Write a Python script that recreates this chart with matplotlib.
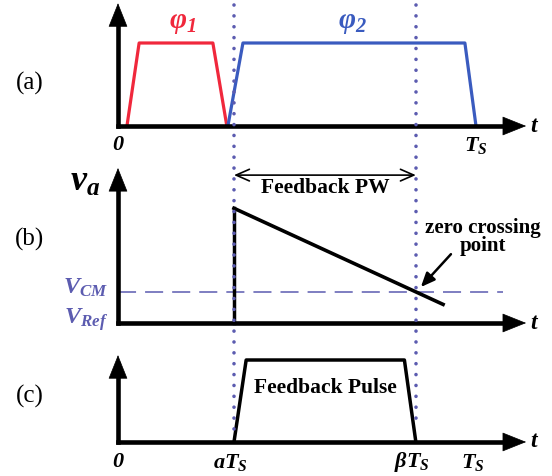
import matplotlib
matplotlib.use('Agg')
import matplotlib.pyplot as plt
import matplotlib.transforms as mtransforms
from matplotlib.lines import Line2D

plt.rcParams['font.family'] = 'Liberation Serif'
plt.rcParams['mathtext.fontset'] = 'custom'
plt.rcParams['mathtext.it'] = 'Liberation Serif:italic:bold'
plt.rcParams['mathtext.rm'] = 'Liberation Serif:italic:bold'
plt.rcParams['mathtext.bf'] = 'Liberation Serif:italic:bold'

# time in units of Ts
Ts = 1.0
alpha = 0.324
beta = 0.832
t_end = 1.14

phi1_t = [0.025, 0.059, 0.265, 0.304]
phi1_v = [0, 1, 1, 0]
phi2_t = [0.307, 0.349, 0.969, 1.0]
phi2_v = [0, 1, 1, 0]

va_t = [alpha, 0.908]
va_v = [3.7, 0.6]
VCM = 1.0
VREF = 0.0
vcm_end = 1.075

pulse_t = [alpha, 0.358, 0.80, beta]
pulse_v = [0, 1, 1, 0]

tick_pos = [0, alpha, beta, Ts]
tick_lbl = ['0', r'$aT_S$', r'$\beta T_S$', r'$T_S$']

red = '#f0283c'
blue = '#3a5bbf'
slate = '#5c5cb0'
slate2 = '#7474bc'

W, H = 552, 476
fig = plt.figure(figsize=(W / 100, H / 100), dpi=100)
xlim = (-118 / 358, 434 / 358)


def panel(top_px, h_px, ylim):
    ax = fig.add_axes([0, 1 - (top_px + h_px) / H, 1, h_px / H])
    ax.set_xlim(*xlim)
    ax.set_ylim(*ylim)
    ax.axis('off')
    return ax


def axes_arrows(ax, ytip):
    ax.plot([0, t_end - 0.03], [0, 0], color='k', lw=3.3, solid_capstyle='projecting', zorder=3)
    ax.plot([0, 0], [0, ytip * 0.9], color='k', lw=3.3, solid_capstyle='projecting', zorder=3)
    st = '-|>,head_length=0.8,head_width=0.32'
    ax.annotate('', xy=(t_end, 0), xytext=(t_end - 0.08, 0),
                arrowprops=dict(arrowstyle=st, color='k', lw=0.5, mutation_scale=20,
                                shrinkA=0, shrinkB=0), zorder=4)
    ax.annotate('', xy=(0, ytip), xytext=(0, ytip * 0.8),
                arrowprops=dict(arrowstyle=st, color='k', lw=0.5, mutation_scale=20,
                                shrinkA=0, shrinkB=0), zorder=4)
    ax.text(t_end + 0.025, 0, r'$t$', fontsize=17, ha='center', va='center')


# (a) clock phases
ax_a = panel(0, 150, (-0.289, 1.518))
axes_arrows(ax_a, 1.48)
ax_a.plot(phi1_t, phi1_v, color=red, lw=2.3, zorder=2)
ax_a.plot(phi2_t, phi2_v, color=blue, lw=2.3, zorder=2)
ax_a.text(0.179, 1.24, r'$\varphi_1$', color=red, fontsize=21, ha='center', va='center')
ax_a.text(0.656, 1.24, r'$\varphi_2$', color=blue, fontsize=21, ha='center', va='center')
ax_a.text(-0.246, 0.518, '(a)', fontsize=18, ha='center', va='center')
ax_a.text(0, -0.23, '0', fontsize=16, ha='center', va='center', style='italic', weight='bold')
ax_a.text(Ts, -0.23, r'$T_S$', fontsize=16, ha='center', va='center')

# (b) integrator output
ax_b = panel(150, 185, (-0.387, 5.58))
axes_arrows(ax_b, 5.0)
ax_b.plot([alpha, alpha], [VREF, va_v[0]], color='k', lw=2.5, zorder=2)
ax_b.plot(va_t, va_v, color='k', lw=2.6, zorder=2)
ax_b.plot([0, vcm_end], [VCM, VCM], color=slate2, lw=1.3, dashes=(10, 5), zorder=1)
ax_b.annotate('', xy=(alpha, 4.77), xytext=(beta, 4.77),
              arrowprops=dict(arrowstyle='<->,head_length=0.8,head_width=0.35',
                              color='k', lw=1.2, mutation_scale=12, shrinkA=0, shrinkB=0))
ax_b.text((alpha + beta) / 2, 4.35, 'Feedback PW', fontsize=15.5, weight='bold',
          ha='center', va='center')
ax_b.text(1.02, 3.08, 'zero crossing', fontsize=15, weight='bold', ha='center', va='center')
ax_b.text(1.02, 2.48, 'point', fontsize=15, weight='bold', ha='center', va='center')
ax_b.annotate('', xy=(0.846, 1.16), xytext=(0.930, 2.22),
              arrowprops=dict(arrowstyle='-|>,head_length=0.7,head_width=0.3',
                              color='k', lw=1.8, mutation_scale=12, shrinkA=0, shrinkB=0))
ax_b.text(-0.092, 4.55, r'$v_a$', fontsize=26, ha='center', va='center')
ax_b.text(-0.028, 1.13, r'$V_{CM}$', color=slate, fontsize=17.5, ha='right', va='center')
ax_b.text(-0.028, 0.12, r'$V_{Ref}$', color=slate, fontsize=17.5, ha='right', va='center')
ax_b.text(-0.246, 2.68, '(b)', fontsize=18, ha='center', va='center')

# (c) feedback pulse
ax_c = panel(335, 141, (-0.415, 1.305))
axes_arrows(ax_c, 1.06)
ax_c.plot(pulse_t, pulse_v, color='k', lw=2.5, zorder=2)
ax_c.text(0.578, 0.66, 'Feedback Pulse', fontsize=15.5, weight='bold', ha='center', va='center')
ax_c.text(-0.246, 0.55, '(c)', fontsize=18, ha='center', va='center')
for p, s in zip(tick_pos, tick_lbl):
    if s == '0':
        ax_c.text(p, -0.245, s, fontsize=16, ha='center', va='center', style='italic', weight='bold')
    else:
        ax_c.text(p - 0.01, -0.245, s, fontsize=16, ha='center', va='center')

# dotted markers at aTs and bTs across panels
tr = mtransforms.blended_transform_factory(ax_a.transData, fig.transFigure)
for x, ybot in [(alpha, 437), (beta, 423)]:
    fig.add_artist(Line2D([x, x], [1 - 5 / H, 1 - ybot / H], transform=tr, color=slate,
                          lw=2.6, linestyle=(0, (0.01, 3.0)), dash_capstyle='round', zorder=5))

fig.savefig('out.png', dpi=100)
